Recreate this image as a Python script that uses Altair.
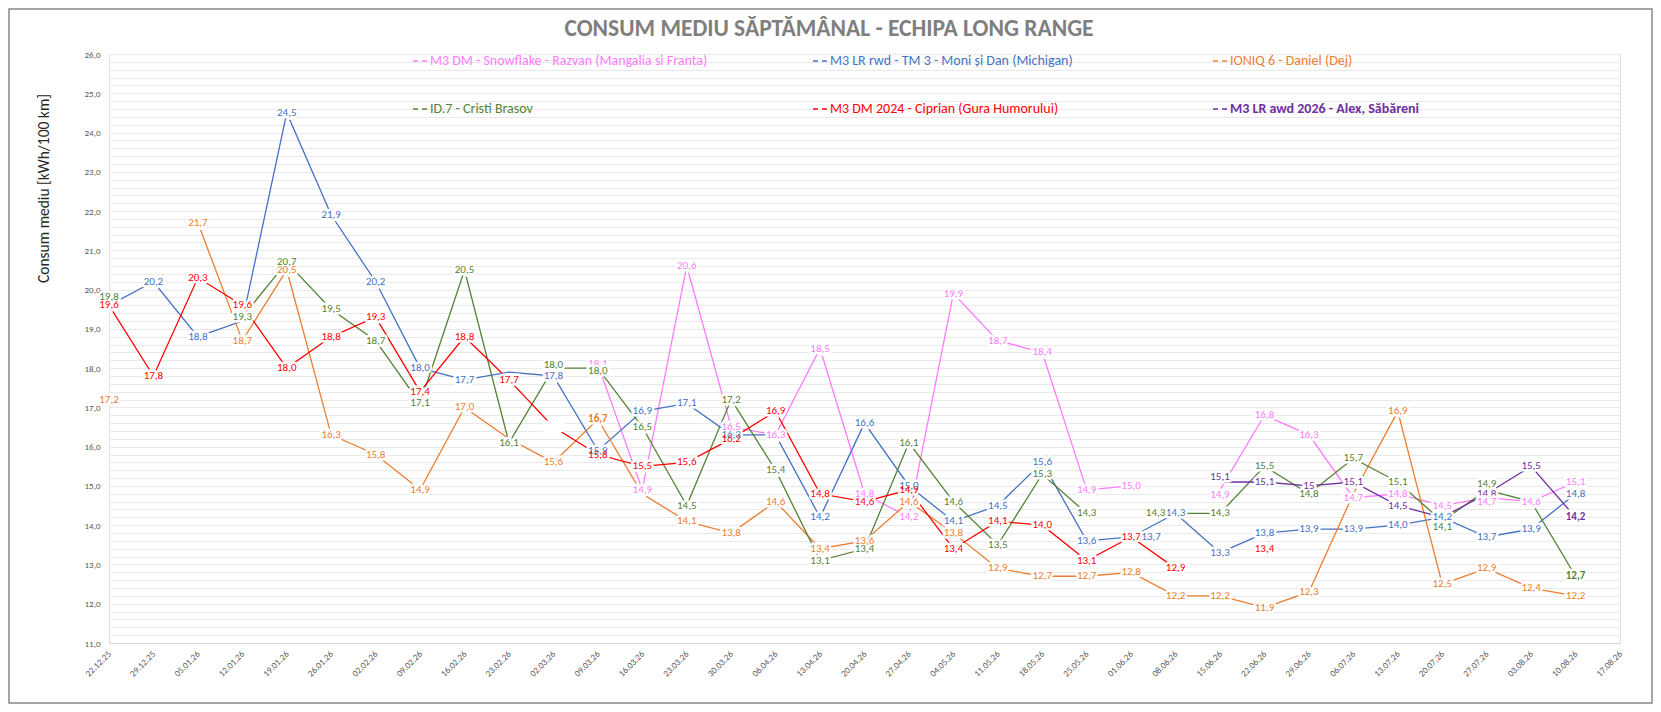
import altair as alt
import pandas as pd

dates = ["22.12.25", "29.12.25", "05.01.26", "12.01.26", "19.01.26", "26.01.26", "02.02.26",
         "09.02.26", "16.02.26", "23.02.26", "02.03.26", "09.03.26", "16.03.26", "23.03.26",
         "30.03.26", "06.04.26", "13.04.26", "20.04.26", "27.04.26", "04.05.26", "11.05.26",
         "18.05.26", "25.05.26", "01.06.26", "08.06.26", "15.06.26", "22.06.26", "29.06.26",
         "06.07.26", "13.07.26", "20.07.26", "27.07.26", "03.08.26", "10.08.26", "17.08.26"]

s_pink = "M3 DM - Snowflake - Razvan (Mangalia si Franta)"
s_blue = "M3 LR rwd - TM 3 - Moni și Dan (Michigan)"
s_orange = "IONIQ 6 - Daniel (Dej)"
s_green = "ID.7 - Cristi Brasov"
s_red = "M3 DM 2024 - Ciprian (Gura Humorului)"
s_purple = "M3 LR awd 2026 - Alex, Săbăreni"

N = None
pink = [N, N, N, N, N, N, N, N, N, N, N, 18.1, 14.9, 20.6, 16.5, 16.3, 18.5, 14.8, 14.2, 19.9,
        18.7, 18.4, 14.9, 15.0, N, 14.9, 16.8, 16.3, 14.7, 14.8, 14.5, 14.7, 14.6, 15.1, N]
blue = [19.6, 20.2, 18.8, 19.2, 24.5, 21.9, 20.2, 18.0, 17.7, 17.9, 17.8, 15.9, 16.9, 17.1, 16.3,
        16.3, 14.2, 16.6, 15.0, 14.1, 14.5, 15.6, 13.6, 13.7, 14.3, 13.3, 13.8, 13.9, 13.9, 14.0,
        14.2, 13.7, 13.9, 14.8, N]
orange = [17.2, N, 21.7, 18.7, 20.5, 16.3, 15.8, 14.9, 17.0, 16.2, 15.6, 16.7, 14.8, 14.1, 13.8,
          14.6, 13.4, 13.6, 14.6, 13.8, 12.9, 12.7, 12.7, 12.8, 12.2, 12.2, 11.9, 12.3, 14.8, 16.9,
          12.5, 12.9, 12.4, 12.2, N]
green = [19.8, N, N, 19.3, 20.7, 19.5, 18.7, 17.1, 20.5, 16.1, 18.0, 18.0, 16.5, 14.5, 17.2, 15.4,
         13.1, 13.4, 16.1, 14.6, 13.5, 15.3, 14.3, N, 14.3, 14.3, 15.5, 14.8, 15.7, 15.1, 14.1,
         14.9, 14.6, 12.7, N]
red = [19.6, 17.8, 20.3, 19.6, 18.0, 18.8, 19.3, 17.4, 18.8, 17.7, 16.5, 15.8, 15.5, 15.6, 16.2,
       16.9, 14.8, 14.6, 14.9, 13.4, 14.1, 14.0, 13.1, 13.7, 12.9, N, 13.4, N, N, N, N, N, N, N, N]
purple = [N] * 25 + [15.1, 15.1, 15.0, 15.1, 14.5, 14.2, 14.8, 15.5, 14.2, N]

series = [s_pink, s_blue, s_orange, s_green, s_red, s_purple]
values = [pink, blue, orange, green, red, purple]
colors = ["#FF7BFF", "#4472C4", "#ED7D31", "#548235", "#FF0000", "#7030A0"]
widths = [1.3, 1.3, 1.3, 1.3, 1.3, 3.0]

# labels that are covered / not shown in the original
hidden = {(s_blue, 0), (s_blue, 3), (s_blue, 9), (s_blue, 15), (s_orange, 9), (s_orange, 12),
          (s_orange, 28), (s_purple, 30), (s_green, 32)}
blank = {(s_red, 10)}
bold = {(s_green, 33), (s_purple, 33), (s_orange, 11)}
# labels moved aside in the original (pixel shift dx, dy)
nudges = {(s_green, 24): (-20, 0), (s_blue, 23): (20, 0),
          (s_purple, 25): (0, -5), (s_pink, 25): (0, 5),
          (s_green, 31): (0, -6), (s_pink, 31): (0, 4),
          (s_green, 10): (0, -3), (s_green, 11): (0, 3),
          (s_green, 30): (0, 6)}


def fmt(v, general=False):
    if general and abs(v - round(v)) < 1e-9:
        return str(int(round(v)))
    return f"{v:.1f}".replace(".", ",")


nudge_groups = sorted(set(nudges.values()))

rows = []
for s, vals in zip(series, values):
    for i, (d, v) in enumerate(zip(dates, vals)):
        key = (s, i)
        kind = "none"
        if v is not None:
            if key in hidden:
                kind = "hidden"
            elif key in blank:
                kind = "blank"
            elif key in nudges:
                kind = "n%d" % nudge_groups.index(nudges[key])
            elif key in bold:
                kind = "bold"
            else:
                kind = "normal"
        rows.append({"series": s, "date": d, "value": v,
                     "label": fmt(v, s == s_purple) if v is not None else None,
                     "kind": kind})
df = pd.DataFrame(rows)

FONT = "Carlito, Calibri, Lato, sans-serif"
W, H = 1511, 589

grid_vals = [round(11 + 0.2 * k, 1) for k in range(76)]

x_enc = alt.X("date:N", sort=dates,
              scale=alt.Scale(type="point", padding=0),
              axis=alt.Axis(title=None, labelAngle=-45, labelFontSize=9, labelColor="#595959",
                            labelFont=FONT, ticks=False, grid=False, domainColor="#D9D9D9",
                            domainWidth=1.2, labelPadding=9, labelAlign="right",
                            labelBaseline="middle", labelOverlap=False))
y_enc = alt.Y("value:Q",
              scale=alt.Scale(domain=[11, 26], nice=False, zero=False),
              axis=alt.Axis(values=grid_vals,
                            labelExpr="abs(datum.value - round(datum.value)) < 0.01 ? replace(format(datum.value, '.1f'), '.', ',') : ''",
                            title="Consum mediu [kWh/100 km]", titleFontSize=15.5,
                            titleFont=FONT, titleFontWeight="normal", titleColor="#262626",
                            titleX=-66, titleY=134, titleAlign="center", titleBaseline="middle",
                            labelFontSize=9, labelColor="#595959", labelFont=FONT,
                            labelPadding=9, ticks=False, domain=False,
                            grid=True, gridColor="#E9E9E9", gridWidth=1))

color_enc = alt.Color("series:N",
                      scale=alt.Scale(domain=series, range=colors),
                      legend=alt.Legend(orient="none", legendX=303, legendY=-1, columns=3,
                                        direction="horizontal",
                                        title=None, symbolType="stroke", symbolSize=196,
                                        symbolDash=[5, 4], symbolStrokeWidth=1.5,
                                        labelFontSize=14, labelFont=FONT, labelOffset=2,
                                        labelColor=alt.ExprRef("scale('color', datum.value)"),
                                        labelFontWeight=alt.ExprRef("datum.value == '" + s_purple + "' ? 'bold' : 'normal'"),
                                        gridAlign="all", columnPadding=102, rowPadding=33,
                                        labelLimit=500))

base = alt.Chart(df)

lines = base.mark_line(invalid="break-paths-show-domains").encode(
    x=x_enc, y=y_enc, color=color_enc,
    strokeWidth=alt.StrokeWidth("series:N", scale=alt.Scale(domain=series, range=widths), legend=None),
)

lab = base.transform_filter("datum.kind != 'none' && datum.kind != 'hidden'")


def label_layers(filter_expr, dx=0, dy=0, weight="normal", white=False):
    src = lab.transform_filter(filter_expr)
    halo = src.mark_text(fontSize=11, font=FONT, fontWeight=weight, stroke="white",
                         strokeWidth=5, strokeJoin="round", color="white", dx=dx, dy=dy,
                         baseline="middle").encode(x=x_enc, y=y_enc, text="label:N")
    if white:
        return [halo]
    txt = src.mark_text(fontSize=11, font=FONT, fontWeight=weight, dx=dx, dy=dy,
                        baseline="middle").encode(x=x_enc, y=y_enc, text="label:N", color=color_enc)
    return [halo, txt]


layers = []
layers += label_layers("datum.kind == 'normal'")
layers += label_layers("datum.kind == 'bold'", weight="bold")
for k, (ndx, ndy) in enumerate(nudge_groups):
    layers += label_layers("datum.kind == 'n%d'" % k, dx=ndx, dy=ndy)
layers += label_layers("datum.kind == 'blank'", white=True)

title_df = pd.DataFrame({"t": ["CONSUM MEDIU SĂPTĂMÂNAL - ECHIPA LONG RANGE"]})
title = alt.Chart(title_df).mark_text(fontSize=23.5, font=FONT, fontWeight="bold", color="#7F7F7F",
                                      align="center", baseline="middle").encode(
    x=alt.value(720), y=alt.value(-25), text="t:N")
border = alt.Chart(title_df).mark_rect(filled=False, stroke="#888888", strokeWidth=1.5).encode(
    x=alt.value(-100), x2=alt.value(W + 32), y=alt.value(-45), y2=alt.value(H + 60))

chart = alt.layer(border, lines, *layers, title).properties(
    width=W, height=H,
    autosize=alt.AutoSizeParams(type="none"),
    padding={"left": 101, "top": 46, "right": 33, "bottom": 61},
).configure_view(strokeWidth=0).configure(background="white")

chart.save("out.html", embed_options={"renderer": "svg", "actions": False})
